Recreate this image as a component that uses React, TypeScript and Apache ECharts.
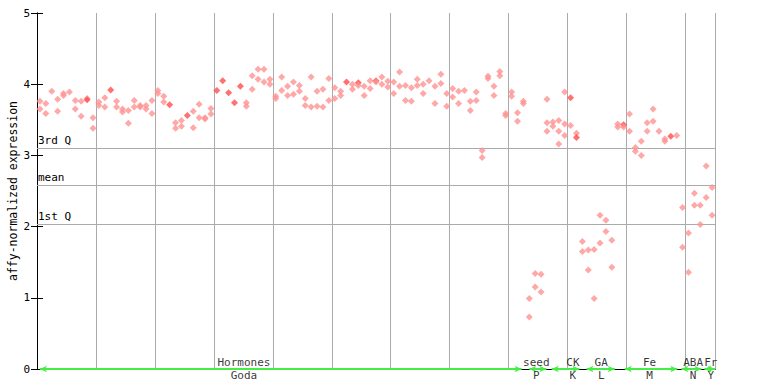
import React, { useEffect, useRef } from "react";
import * as echarts from "echarts";

// Expression values per sample column (up to three replicates, null = absent)
const rep1: (number | null)[] = [
  3.76, 3.73, 3.9, 3.79, 3.87, 3.89, 3.77, 3.76, 3.8, 3.53,
  3.75, 3.81, 3.92, 3.76, 3.65, 3.63, 3.77, 3.7, 3.7, 3.77,
  3.91, 3.83, 3.71, 3.46, 3.49, 3.56, 3.62, 3.72, 3.53, 3.66,
  3.91, 4.05, 3.88, 3.74, 3.97, 3.74, 4.12, 4.21, 4.21, 4.07,
  3.83, 4.1, 3.97, 4.03, 3.98, 3.8, 4.1, 3.9, 3.93, 4.08,
  3.95, 3.9, 4.03, 4.0, 4.02, 3.97, 4.05, 4.05, 4.1, 4.04,
  4.03, 4.17, 3.98, 3.95, 4.07, 4.0, 4.05, 3.97, 4.14, 3.87,
  3.94, 3.9, 3.91, 3.76, 3.89, 3.07, 4.11, 3.97, 4.18, 3.59,
  3.89, 3.6, 3.76,
  0.99, 1.34, 1.33,
  3.79, 3.47, 3.49, 3.89, 3.81, 3.31,
  1.79, 1.67, 1.68, 2.16, 2.09, 1.81,
  3.44, 3.43, 3.58, 3.11, 3.2, 3.46, 3.65, 3.34, 3.23, 3.27, 3.28,
  2.27, 1.91, 2.47, 2.3,
  2.85, 2.55,
];
const rep2: (number | null)[] = [
  3.65, 3.59, null, 3.62, 3.84, null, 3.65, 3.55, 3.78, 3.38,
  3.7, 3.68, null, 3.68, 3.61, 3.45, 3.68, 3.68, 3.65, 3.59,
  3.87, 3.75, null, 3.38, 3.41, null, 3.39, 3.53, 3.51, 3.58,
  null, null, null, null, null, 3.69, 3.93, 4.07, 4.03, 4.0,
  3.8, 3.91, 3.84, 3.86, 3.9, 3.7, 3.68, 3.69, 3.68, 3.77,
  3.8, 3.84, null, 3.93, 3.98, 3.84, 3.94, 4.03, 4.0, 3.96,
  3.87, 3.97, 3.77, 3.76, 3.98, 3.87, null, 3.73, 4.01, 3.69,
  3.82, 3.73, null, 3.63, 3.77, 2.97, 4.08, 3.84, 4.12, 3.56,
  3.83, 3.48, 3.73,
  0.73, 1.15, 1.08,
  3.46, 3.41, 3.34, 3.44, 3.42, 3.25,
  1.65, 1.39, 0.99, 1.77, 1.93, 1.43,
  3.4, 3.4, 3.34, 3.06, 3.0, 3.34, 3.48, null, 3.2, null, null,
  1.71, 1.36, 2.3, 2.03,
  2.41, 2.16,
];
const rep3: (number | null)[] = new Array(115).fill(null);
rep3[86] = 3.34;
rep3[88] = 3.16;
rep3[89] = 3.28;

// [column, replicate] of points drawn solid
const solidPoints: [number, number][] = [
  [8, 2], [12, 1], [22, 1], [25, 1], [30, 1], [31, 1], [32, 1], [33, 1], [34, 1],
  [52, 1], [54, 1], [57, 1], [90, 1], [91, 2], [99, 1], [107, 1],
];

// Summary lines
const quartileNames = ["3rd Q", "mean", "1st Q"];
const quartileValues = [3.1, 2.58, 2.04];

// Experiment groups: arrow start/end (column units), label position, top and bottom labels
const groupTop = ["Hormones", "seed", "CK", "GA", "Fe", "ABA", "Fr"];
const groupBottom = ["Goda", "P", "K", "L", "M", "N", "Y"];
const groupStart = [0.5, 83.5, 87.3, 93.2, 99.7, 109.3, 113.2];
const groupEnd = [82.2, 86.4, 92.0, 98.0, 108.6, 112.7, 115];
const groupLabelAt = [35.1, 84.7, 90.9, 95.7, 103.9, 111.3, 114.3];

const yTicks = [0, 1, 2, 3, 4, 5];
const NCOLS = 115;

const MONO = "'DejaVu Sans Mono', monospace";
const CHECK = "#ff9292";
const SOLID = "#ff4d4d";

export default function App() {
  const ref = useRef<HTMLDivElement>(null);
  useEffect(() => {
    if (!ref.current) return;
    const chart = echarts.init(ref.current, null, { renderer: "svg" });
    const solidSet = new Set(solidPoints.map((p) => p[0] + ":" + p[1]));
    const pts: any[] = [];
    [rep1, rep2, rep3].forEach((rep, r) => {
      rep.forEach((v, i) => {
        if (v == null) return;
        const solid = solidSet.has(i + ":" + (r + 1));
        pts.push({
          value: [i + 0.5, v],
          itemStyle: { color: solid ? SOLID : CHECK },
        });
      });
    });

    const option: any = {
      animation: false,
      grid: {
        left: 37,
        right: 53,
        top: 13,
        bottom: 15,
        containLabel: false,
        outerBoundsMode: "none",
      },
      xAxis: [
        {
          type: "value",
          min: 0,
          max: NCOLS,
          interval: 10,
          axisLine: { show: true, lineStyle: { color: "#000", width: 1 } },
          axisTick: { show: false },
          axisLabel: { show: false },
          splitLine: { show: true, lineStyle: { color: "#aaaaaa", width: 1 } },
        },
        {
          type: "value",
          position: "top",
          min: 0,
          max: NCOLS,
          axisLine: { show: true, lineStyle: { color: "#000", width: 1 } },
          axisTick: { show: false },
          axisLabel: { show: false },
          splitLine: { show: false },
        },
      ],
      yAxis: [
        {
          type: "value",
          min: 0,
          max: 5,
          interval: 1,
          name: "affy-normalized expression",
          nameLocation: "middle",
          nameGap: 18,
          nameMoveOverlap: false,
          nameTextStyle: { fontFamily: MONO, fontSize: 11.5, color: "#000" },
          axisLine: { show: true, lineStyle: { color: "#000", width: 1 } },
          axisTick: { show: true, inside: true, length: 6, lineStyle: { color: "#000" } },
          axisLabel: {
            show: true,
            margin: 7,
            fontFamily: MONO,
            fontSize: 11,
            color: "#000",
            formatter: (v: number) => (yTicks.includes(v) ? String(v) : ""),
          },
          splitLine: { show: false },
        },
        {
          type: "value",
          position: "right",
          min: 0,
          max: 5,
          interval: 1,
          axisLine: { show: true, lineStyle: { color: "#000", width: 1 } },
          axisTick: { show: true, inside: true, length: 6, lineStyle: { color: "#000" } },
          axisLabel: { show: false },
          splitLine: { show: false },
        },
      ],
      series: [
        {
          type: "scatter",
          name: "quartiles",
          data: [],
          z: 1,
          markLine: {
            silent: true,
            symbol: "none",
            lineStyle: { color: "#aaaaaa", width: 1, type: "solid" },
            label: {
              show: true,
              position: "insideStartTop",
              formatter: "{b}",
              fontFamily: MONO,
              fontSize: 11,
              color: "#000",
              distance: [1, 2],
            },
            data: quartileValues.map((v, i) => ({ yAxis: v, name: quartileNames[i] })),
          },
        },
        {
          type: "scatter",
          name: "expression",
          symbol: "diamond",
          symbolSize: 7,
          z: 5,
          data: pts,
        },
        {
          type: "scatter",
          name: "groups",
          data: [],
          z: 6,
          markLine: {
            silent: true,
            symbol: ["arrow", "arrow"],
            symbolSize: [5, 7],
            lineStyle: { color: "#44ee44", width: 2, type: "solid" },
            label: { show: false },
            data: groupStart.map((s, i) => [
              { coord: [s, 0] },
              { coord: [groupEnd[i], 0] },
            ]),
          },
        },
        {
          type: "scatter",
          name: "groupTop",
          symbolSize: 0,
          z: 7,
          silent: true,
          data: groupLabelAt.map((x, i) => ({ value: [x, 0], name: groupTop[i] })),
          label: {
            show: true,
            position: "top",
            distance: 1,
            formatter: "{b}",
            fontFamily: MONO,
            fontSize: 11,
            color: "#000",
          },
        },
        {
          type: "scatter",
          name: "groupBottom",
          symbolSize: 0,
          z: 7,
          silent: true,
          data: groupLabelAt.map((x, i) => ({ value: [x, 0], name: groupBottom[i] })),
          label: {
            show: true,
            position: "bottom",
            distance: 1,
            formatter: "{b}",
            fontFamily: MONO,
            fontSize: 11,
            color: "#000",
          },
        },
      ],
    };
    chart.setOption(option);
    return () => chart.dispose();
  }, []);
  return (
    <div
      ref={ref}
      style={{ position: "fixed", left: 0, top: 0, width: 768, height: 384, background: "#fff" }}
    />
  );
}
